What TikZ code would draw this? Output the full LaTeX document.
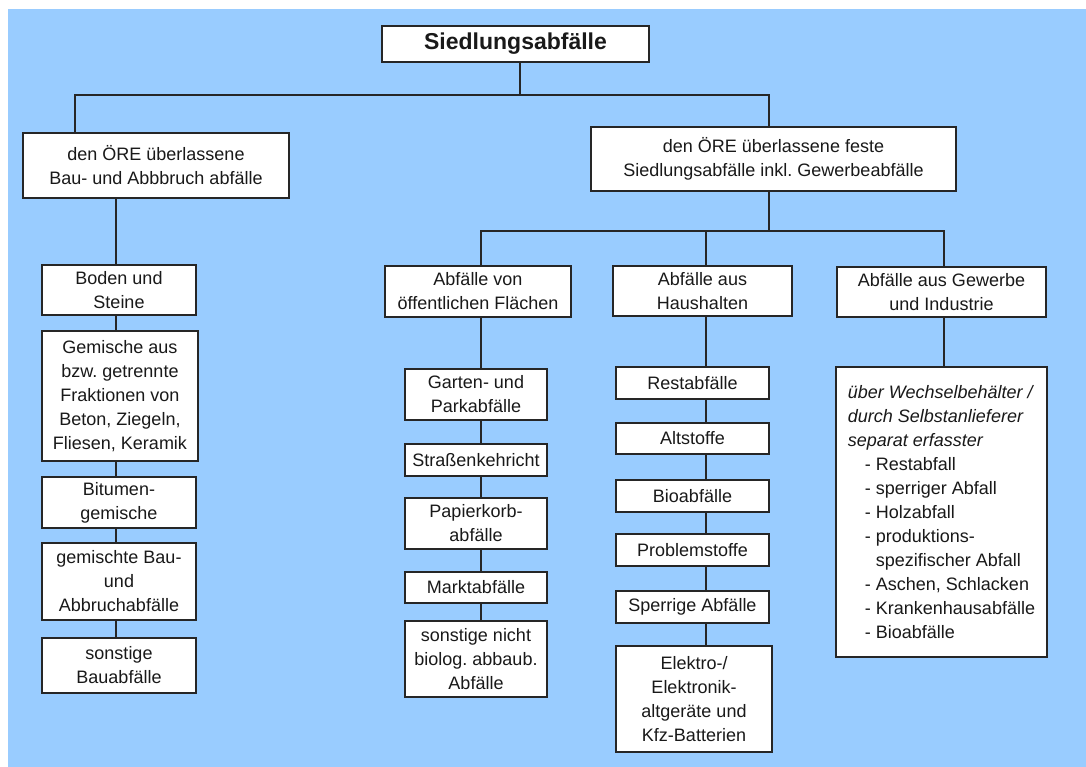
\documentclass[tikz,border=0pt]{standalone}
\usepackage{fontspec}
\setmainfont{Liberation Sans}
\frenchspacing
\definecolor{bg}{HTML}{99CCFF}
\tikzset{
  box/.style={draw=black!85, fill=white, line width=1.4pt, inner sep=0pt, outer sep=0pt,
    align=center, font=\fontsize{18}{24}\selectfont, text=black!90},
  conn/.style={draw=black!85, line width=1.4pt}
}
\newcommand\mybox[7][]{\node[box, #1, minimum width={(#5-#3)*1pt}, minimum height={(#6-#4)*1pt}] (#2) at ({(#3+#5)/2},{(#4+#6)/2}) {#7};}
\begin{document}
\frenchspacing
\begin{tikzpicture}[x=1pt,y=-1pt]
\useasboundingbox (0,0) rectangle (1086,767);
\fill[bg] (8,9) rectangle (1086,767);

% top level
\mybox[font=\bfseries\fontsize{23}{28}\selectfont]{root}{382}{26}{649}{62}{Siedlungsabfälle}
\mybox{L}{23}{133}{289}{198}{den ÖRE überlassene\\Bau- und Abbbruch abfälle}
\mybox{R}{591}{127}{956}{191}{den ÖRE überlassene feste\\Siedlungsabfälle inkl. Gewerbeabfälle}

% left column
\mybox{B1}{42}{265}{196}{315}{Boden und\\Steine}
\mybox{B2}{42}{331}{198}{461}{Gemische aus\\bzw. getrennte\\Fraktionen von\\Beton, Ziegeln,\\Fliesen, Keramik}
\mybox{B3}{42}{477}{196}{528}{Bitumen-\\gemische}
\mybox{B4}{42}{543}{196}{620}{gemischte Bau-\\und\\Abbruchabfälle}
\mybox{B5}{42}{638}{196}{693}{sonstige\\Bauabfälle}

% middle column
\mybox{M0}{385}{266}{571}{317}{Abfälle von\\öffentlichen Flächen}
\mybox{M1}{405}{369}{547}{420}{Garten- und\\Parkabfälle}
\mybox{M2}{405}{444}{547}{476}{Straßenkehricht}
\mybox{M3}{405}{498}{547}{549}{Papierkorb-\\abfälle}
\mybox{M4}{405}{572}{547}{603}{Marktabfälle}
\mybox{M5}{405}{621}{547}{697}{sonstige nicht\\biolog. abbaub.\\Abfälle}

% households
\mybox{H0}{613}{266}{792}{316}{Abfälle aus\\Haushalten}
\mybox{H1}{616}{367}{769}{399}{Restabfälle}
\mybox{H2}{616}{423}{769}{454}{Altstoffe}
\mybox{H3}{616}{480}{769}{512}{Bioabfälle}
\mybox{H4}{616}{534}{769}{566}{Problemstoffe}
\mybox{H5}{616}{591}{769}{623}{Sperrige Abfälle}
\mybox{H6}{616}{646}{772}{752}{Elektro-/\\Elektronik-\\altgeräte und\\Kfz-Batterien}

% industry
\mybox{G0}{837}{267}{1046}{317}{Abfälle aus Gewerbe\\und Industrie}
\mybox[align=left]{G1}{836}{367}{1047}{657}{\textit{über Wechselbehälter /}\\
\textit{durch Selbstanlieferer}\\
\textit{separat erfasster}\\
\hspace*{17pt}- Restabfall\\
\hspace*{17pt}- sperriger Abfall\\
\hspace*{17pt}- Holzabfall\\
\hspace*{17pt}- produktions-\\
\hspace*{17pt}\phantom{- }spezifischer Abfall\\
\hspace*{17pt}- Aschen, Schlacken\\
\hspace*{17pt}- Krankenhausabfälle\\
\hspace*{17pt}- Bioabfälle}

% junction coordinates
\coordinate (t1) at (520,95);
\coordinate (tl) at (75,95);
\coordinate (tr) at (769,95);
\coordinate (u0) at (769,231);
\coordinate (u1) at (481,231);
\coordinate (u2) at (706,231);
\coordinate (u3) at (944,231);
\coordinate (cl) at (116,0);
\coordinate (cm) at (481,0);
\coordinate (ch) at (706,0);
\coordinate (cg) at (944,0);

% connectors
\draw[conn] (root.south -| t1) -- (t1);
\draw[conn] (L.north -| tl) -- (tl) -- (tr) -- (R.north -| tr);
\draw[conn] (R.south -| u0) -- (u0);
\draw[conn] (M0.north -| u1) -- (u1) -- (u3) -- (G0.north -| u3);
\draw[conn] (u2) -- (H0.north -| u2);
\foreach \a/\b in {L/B1,B1/B2,B2/B3,B3/B4,B4/B5}
  \draw[conn] (\a.south -| cl) -- (\b.north -| cl);
\foreach \a/\b in {M0/M1,M1/M2,M2/M3,M3/M4,M4/M5}
  \draw[conn] (\a.south -| cm) -- (\b.north -| cm);
\foreach \a/\b in {H0/H1,H1/H2,H2/H3,H3/H4,H4/H5,H5/H6}
  \draw[conn] (\a.south -| ch) -- (\b.north -| ch);
\draw[conn] (G0.south -| cg) -- (G1.north -| cg);
\end{tikzpicture}
\end{document}
